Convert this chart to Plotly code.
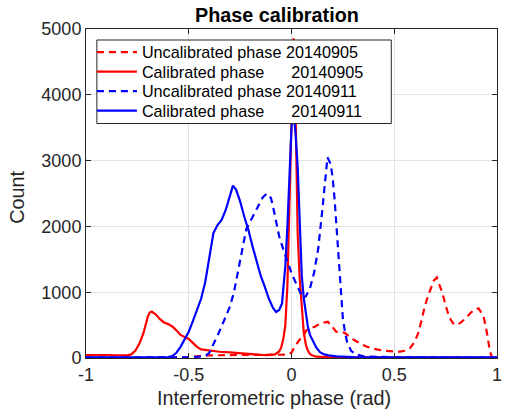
import plotly.graph_objects as go

# ---- data ----
x_unc0905 = [-1, -0.6, -0.5, -0.45, -0.4, -0.3, -0.2, -0.1, -0.05, -0.02, 0, 0.016, 0.04, 0.056, 0.073,
             0.088, 0.113, 0.144, 0.177, 0.20, 0.217, 0.257, 0.28, 0.305, 0.34, 0.368, 0.40, 0.448, 0.5,
             0.528, 0.55, 0.576, 0.60, 0.616, 0.632, 0.648, 0.665, 0.679, 0.693, 0.707, 0.72, 0.735, 0.75,
             0.767, 0.785, 0.80, 0.82, 0.847, 0.87, 0.89, 0.911, 0.935, 0.95, 0.958, 0.966, 0.974, 1.0]
y_unc0905 = [0, 0, 10, 30, 40, 45, 45, 45, 45, 50, 80, 176, 280, 330, 424,
             440, 475, 530, 550, 470, 400, 385, 330, 273, 210, 171, 140, 111, 100,
             96, 110, 146, 250, 374, 560, 778, 950, 1080, 1180, 1222, 1120, 980, 800,
             626, 530, 500, 530, 601, 680, 740, 753, 626, 400, 222, 100, 20, 0]

x_cal0905 = [-1, -0.95, -0.9, -0.85, -0.8, -0.78, -0.76, -0.74, -0.72, -0.70, -0.69, -0.68, -0.66, -0.64,
             -0.62, -0.60, -0.58, -0.56, -0.54, -0.52, -0.50, -0.48, -0.46, -0.44, -0.40, -0.35, -0.30,
             -0.25, -0.20, -0.15, -0.12, -0.10, -0.08, -0.06, -0.05, -0.04, -0.03, -0.02, -0.01, 0, 0.01,
             0.02, 0.03, 0.04, 0.05, 0.06, 0.07, 0.08, 0.09, 0.10, 0.12, 0.15, 0.2, 0.3, 0.5, 0.7, 0.9, 1.0]
y_cal0905 = [45, 50, 45, 40, 40, 55, 110, 220, 380, 620, 690, 705, 660, 590,
             540, 515, 480, 420, 350, 320, 290, 230, 170, 130, 110, 95, 86,
             70, 60, 48, 45, 45, 55, 100, 160, 290, 500, 1100, 2300, 3800, 4860,
             3700, 1900, 1200, 700, 380, 200, 110, 60, 40, 20, 12, 10, 8, 5, 5, 5, 5]

x_unc0911 = [-1, -0.6, -0.5, -0.45, -0.42, -0.40, -0.38, -0.36, -0.34, -0.32, -0.30, -0.28, -0.26, -0.24,
             -0.22, -0.20, -0.18, -0.16, -0.14, -0.12, -0.10, -0.09, -0.08, -0.06, -0.04, -0.02, 0, 0.02,
             0.04, 0.055, 0.07, 0.09, 0.11, 0.13, 0.15, 0.165, 0.175, 0.19, 0.20, 0.21, 0.22, 0.23, 0.24,
             0.25, 0.26, 0.27, 0.29, 0.31, 0.35, 0.5, 1.0]
y_unc0911 = [5, 5, 10, 20, 30, 80, 200, 340, 480, 620, 780, 1000, 1330, 1650,
             1960, 2080, 2200, 2320, 2440, 2500, 2430, 2300, 2130, 1850, 1650, 1470, 1290, 1150,
             1000, 910, 940, 1060, 1300, 1660, 2250, 2800, 3050, 2950, 2750, 2400, 1950, 1450, 1000,
             600, 400, 250, 110, 60, 25, 10, 5]

x_cal0911 = [-1, -0.8, -0.65, -0.6, -0.58, -0.56, -0.54, -0.52, -0.50, -0.48, -0.46, -0.44, -0.42, -0.40,
             -0.38, -0.36, -0.34, -0.32, -0.30, -0.285, -0.27, -0.25, -0.23, -0.21, -0.19, -0.17, -0.15,
             -0.13, -0.11, -0.09, -0.075, -0.06, -0.046, -0.04, -0.03, -0.02, -0.01, 0, 0.008, 0.02, 0.03,
             0.04, 0.05, 0.06, 0.07, 0.08, 0.09, 0.10, 0.12, 0.14, 0.16, 0.18, 0.22, 0.3, 0.5, 0.7, 1.0]
y_cal0911 = [10, 10, 10, 15, 30, 80, 170, 280, 400, 560, 730, 900, 1150, 1500,
             1900, 2020, 2100, 2250, 2450, 2620, 2560, 2380, 2150, 1950, 1700, 1480, 1250,
             1080, 900, 760, 700, 730, 830, 1050, 1400, 2000, 2800, 3500, 3800, 3400, 2900,
             2100, 1250, 900, 650, 470, 350, 280, 160, 85, 55, 40, 25, 15, 10, 8, 8]

names = ["Uncalibrated phase 20140905",
         "Calibrated phase\u00a0\u00a0\u00a0\u00a0\u00a0 20140905",
         "Uncalibrated phase 20140911",
         "Calibrated phase\u00a0\u00a0\u00a0\u00a0\u00a0 20140911"]

x_tickvals = [-1, -0.5, 0, 0.5, 1]
x_ticktext = ["-1", "-0.5", "0", "0.5", "1"]
y_tickvals = [0, 1000, 2000, 3000, 4000, 5000]
y_ticktext = ["0", "1000", "2000", "3000", "4000", "5000"]

title_text = "Phase calibration"
xlabel = "Interferometric phase (rad)"
ylabel = "Count"

FONT = "Liberation Sans, Arial, Helvetica, sans-serif"
AX = "#262626"

L, R, T, B = 86, 3, 29, 55
W, H = 505, 413
pw, ph = W - L - R, H - T - B


def px_x(p):
    return (p - L) / pw


def px_y(p):
    return (H - B - p) / ph


fig = go.Figure()
series = [(x_unc0905, y_unc0905, "#ff0000", "7px,5px"),
          (x_cal0905, y_cal0905, "#ff0000", "solid"),
          (x_unc0911, y_unc0911, "#0000ff", "7px,5px"),
          (x_cal0911, y_cal0911, "#0000ff", "solid")]
legend_ids = ["legend", "legend2", "legend3", "legend4"]
legend_rows = [52.5, 72, 91.5, 111]

for (xs, ys, col, dash), nm, lid in zip(series, names, legend_ids):
    fig.add_trace(go.Scatter(x=xs, y=ys, mode="lines", name=nm, legend=lid,
                             line=dict(color=col, width=2.2, dash=dash)))

legend_layouts = {}
for lid, row in zip(legend_ids, legend_rows):
    legend_layouts[lid] = dict(x=px_x(92), y=px_y(row), xanchor="left", yanchor="middle",
                               bgcolor="rgba(0,0,0,0)", borderwidth=0,
                               font=dict(family=FONT, size=16.2, color="#000000"),
                               itemwidth=40)

fig.update_layout(
    width=W, height=H,
    margin=dict(l=L, r=R, t=T, b=B),
    paper_bgcolor="white", plot_bgcolor="white",
    font=dict(family=FONT, size=18, color=AX),
    showlegend=True,
    xaxis=dict(range=[-1, 1], tickvals=x_tickvals, ticktext=x_ticktext,
               showgrid=True, gridcolor="#e3e3e3", gridwidth=1,
               zeroline=False, showline=True, linecolor=AX, linewidth=1,
               mirror="ticks", ticks="inside", ticklen=5, tickcolor=AX,
               ticklabeloverflow="allow",
               tickfont=dict(size=18, color=AX)),
    yaxis=dict(range=[0, 5000], tickvals=y_tickvals, ticktext=y_ticktext,
               showgrid=True, gridcolor="#e3e3e3", gridwidth=1,
               zeroline=False, showline=True, linecolor=AX, linewidth=1,
               mirror="ticks", ticks="inside", ticklen=5, tickcolor=AX,
               ticklabeloverflow="allow",
               tickfont=dict(size=18, color=AX)),
    shapes=[dict(type="rect", xref="paper", yref="paper", layer="above",
                 x0=px_x(97), x1=px_x(395), y0=px_y(123.5), y1=px_y(40),
                 fillcolor="white", line=dict(color=AX, width=1))],
    annotations=[
        dict(text="<b>" + title_text + "</b>", xref="paper", yref="paper",
             x=px_x(279), y=px_y(15), xanchor="center", yanchor="middle",
             showarrow=False, font=dict(family=FONT, size=19.8, color="#000000")),
        dict(text=xlabel, xref="paper", yref="paper",
             x=px_x(276), y=px_y(398), xanchor="center", yanchor="middle",
             showarrow=False, font=dict(family=FONT, size=19.8, color=AX)),
        dict(text=ylabel, xref="paper", yref="paper", textangle=-90,
             x=px_x(16), y=px_y(197), xanchor="center", yanchor="middle",
             showarrow=False, font=dict(family=FONT, size=19.8, color=AX)),
    ],
    **legend_layouts,
)

fig.write_html("out.html", config={"displayModeBar": False},
               post_script="document.body.style.margin='0px';")
